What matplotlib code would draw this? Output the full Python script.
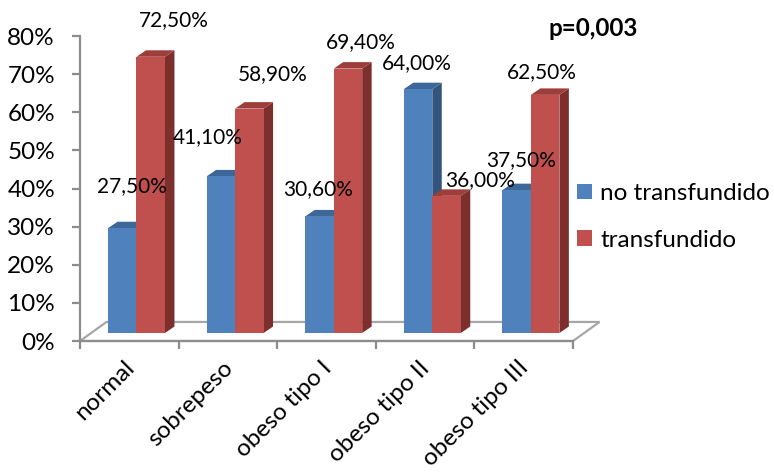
import matplotlib.pyplot as plt
from matplotlib.patches import Polygon, Patch

# data
categories = ["normal", "sobrepeso", "obeso tipo I", "obeso tipo II", "obeso tipo III"]
no_transfundido = [27.5, 41.1, 30.6, 64.0, 37.5]
transfundido = [72.5, 58.9, 69.4, 36.0, 62.5]
series_names = ["no transfundido", "transfundido"]

plt.rcParams['font.family'] = ['Lato', 'DejaVu Sans']

# colours (front, top, side)
blue = ("#4F81BD", "#3D6799", "#33547D")
red = ("#C0504D", "#9E3E3B", "#7D2F2D")

fig = plt.figure(figsize=(7.74, 4.73), dpi=100)
ax = fig.add_axes([80 / 774, (473 - 341) / 473, 493 / 774, 304.8 / 473])
ax.set_xlim(0, 5)
ax.set_ylim(0, 80)
ax.set_facecolor("none")

# fake 3d geometry in data units
floor_dx, floor_dy = 0.269, 5.0     # depth of the floor
bar_shift = 0.42                    # bars sit partway into the floor
bar_w = 0.289
bar_dx, bar_dy = 0.096, 1.7         # depth of a single bar
first = 0.171

# floor outline
floor = Polygon([(0, 0), (floor_dx, floor_dy), (5 + floor_dx, floor_dy), (5, 0)],
                closed=True, facecolor="white", edgecolor="#A6A6A6", lw=1.6,
                clip_on=False, zorder=1)
ax.add_patch(floor)

# label offsets in pixels (dx, dy) from top of each bar
blue_off = [(10, 42), (-13, 39), (-1, 27), (-1, 26), (4, 30)]
red_off = [(23, 37), (23, 34), (13, 26), (34, 16), (-3, 23)]


def draw_bar(x0, v, cols, z):
    y0 = bar_shift * floor_dy
    top = y0 + v
    front, topc, side = cols
    ax.add_patch(Polygon([(x0 + bar_w, y0), (x0 + bar_w + bar_dx, y0 + bar_dy),
                          (x0 + bar_w + bar_dx, top + bar_dy), (x0 + bar_w, top)],
                         facecolor=side, edgecolor="none", clip_on=False, zorder=z))
    ax.add_patch(Polygon([(x0, top), (x0 + bar_w, top),
                          (x0 + bar_w + bar_dx, top + bar_dy), (x0 + bar_dx, top + bar_dy)],
                         facecolor=topc, edgecolor="none", clip_on=False, zorder=z))
    ax.add_patch(Polygon([(x0, y0), (x0 + bar_w, y0), (x0 + bar_w, top), (x0, top)],
                         facecolor=front, edgecolor="none", clip_on=False, zorder=z))
    return x0 + bar_w / 2, top


for i in range(len(categories)):
    xb = i + first + bar_shift * floor_dx
    cx, ty = draw_bar(xb, no_transfundido[i], blue, 2 + i)
    ax.annotate(f"{no_transfundido[i]:.2f}%".replace(".", ","), (cx, ty),
                xytext=blue_off[i], textcoords="offset pixels",
                ha="center", va="center", fontsize=15, zorder=10, annotation_clip=False)
    cx, ty = draw_bar(xb + bar_w, transfundido[i], red, 2.5 + i)
    ax.annotate(f"{transfundido[i]:.2f}%".replace(".", ","), (cx, ty),
                xytext=red_off[i], textcoords="offset pixels",
                ha="center", va="center", fontsize=15, zorder=10, annotation_clip=False)

# axes
for s in ["top", "right"]:
    ax.spines[s].set_visible(False)
for s in ["left", "bottom"]:
    ax.spines[s].set_color("#8C8C8C")
    ax.spines[s].set_linewidth(1.6)
ax.set_yticks(range(0, 81, 10))
ax.set_yticklabels([f"{t}%" for t in range(0, 81, 10)], fontsize=17.5)
ax.set_xticks(range(0, 6))
ax.set_xticklabels([])
ax.tick_params(axis="y", length=6, width=1.6, color="#8C8C8C", pad=12)
ax.tick_params(axis="x", length=6, width=1.6, color="#8C8C8C")

for i, c in enumerate(categories):
    ax.annotate(c, (i + 0.5, 0), xytext=(9, -16), textcoords="offset pixels",
                rotation=45, ha="right", va="top", fontsize=17.5, annotation_clip=False)

handles = [Patch(facecolor=blue[0]), Patch(facecolor=red[0])]
fig.legend(handles, series_names, loc="center left", bbox_to_anchor=(577 / 774, 1 - 217 / 473),
           frameon=False, fontsize=17.5, handlelength=0.6, handleheight=0.6,
           handletextpad=0.35, labelspacing=1.05, borderpad=0, borderaxespad=0)

fig.text(549 / 774, 1 - 28 / 473, "p=0,003", fontsize=17.5, fontweight="bold",
         ha="left", va="center")

fig.savefig("out.png", dpi=100)
